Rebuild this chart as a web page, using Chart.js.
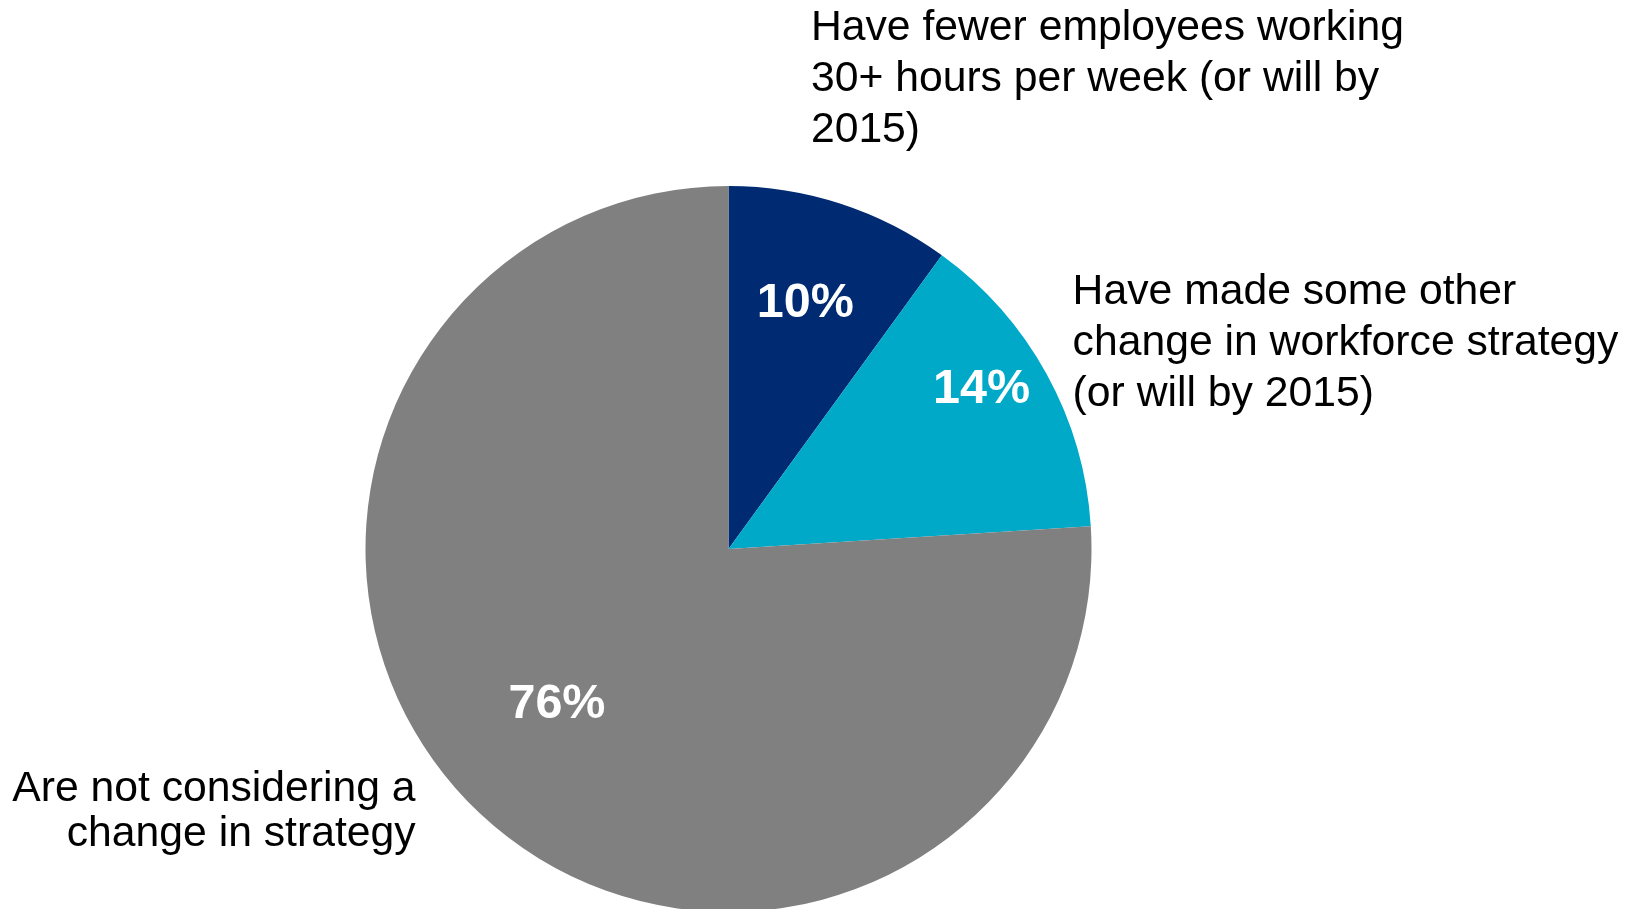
<!DOCTYPE html>
<html>
<head>
<meta charset="utf-8">
<script src="https://cdn.jsdelivr.net/npm/chart.js@4"></script>
<style>
    html, body { margin: 0; padding: 0; background: #ffffff; }
    #wrap { width: 1639px; height: 909px; position: relative; }
</style>
</head>
<body>
<div id="wrap"><canvas id="strategyChart"></canvas></div>
<script>
        // Workforce strategy survey
        const categories = [
            ['Have fewer employees working', '30+ hours per week (or will by', '2015)'],
            ['Have made some other', 'change in workforce strategy', '(or will by 2015)'],
            ['Are not considering a', 'change in strategy']
        ];
        const shares = [10, 14, 76];
        const sliceColors = ['#002B73', '#00A9C8', '#808080'];

        // value labels inside the slices: [radius fraction, angle shift in degrees]
        const valueSpots = [[0.72, -0.9], [0.83, -4.1], [0.63, 5.4]];

        // category text: offset from pie centre in radii, alignment, line height
        const nameSpots = [
            { dx: 0.227, dy: -1.436, align: 'left', lh: 51 },
            { dx: 0.948, dy: -0.708, align: 'left', lh: 51 },
            { dx: -0.862, dy: 0.662, align: 'right', lh: 45 }
        ];

        const sliceLabels = {
            id: 'sliceLabels',
            afterDatasetsDraw(chart) {
                const ctx = chart.ctx;
                const meta = chart.getDatasetMeta(0);
                ctx.save();
                meta.data.forEach(function(arc, i) {
                    const cx = arc.x, cy = arc.y, r = arc.outerRadius;

                    // percentage inside the slice
                    const mid = (arc.startAngle + arc.endAngle) / 2 + valueSpots[i][1] * Math.PI / 180;
                    const rr = r * valueSpots[i][0];
                    ctx.font = 'bold 48.5px "Liberation Sans", Arial, sans-serif';
                    ctx.fillStyle = '#ffffff';
                    ctx.textAlign = 'center';
                    ctx.textBaseline = 'middle';
                    ctx.fillText(shares[i] + '%', cx + Math.cos(mid) * rr, cy + Math.sin(mid) * rr + 4);

                    // category name outside the pie
                    const spot = nameSpots[i];
                    ctx.font = '42.7px "Liberation Sans", Arial, sans-serif';
                    ctx.fillStyle = '#000000';
                    ctx.textAlign = spot.align;
                    categories[i].forEach(function(line, k) {
                        ctx.fillText(line, cx + spot.dx * r, cy + spot.dy * r + k * spot.lh);
                    });
                });
                ctx.restore();
            }
        };

        const strategyChart = new Chart(document.getElementById('strategyChart').getContext('2d'), {
            type: 'pie',
            data: {
                labels: categories.map(c => c.join(' ')),
                datasets: [{
                    data: shares,
                    backgroundColor: sliceColors,
                    borderWidth: 0,
                    radius: 363,
                    clip: false
                }]
            },
            options: {
                responsive: true,
                maintainAspectRatio: false,
                animation: false,
                layout: {
                    padding: { left: 0, right: 182, top: 189, bottom: 0 }
                },
                plugins: {
                    legend: { display: false },
                    tooltip: { enabled: false }
                }
            },
            plugins: [sliceLabels]
        });
</script>
</body>
</html>
